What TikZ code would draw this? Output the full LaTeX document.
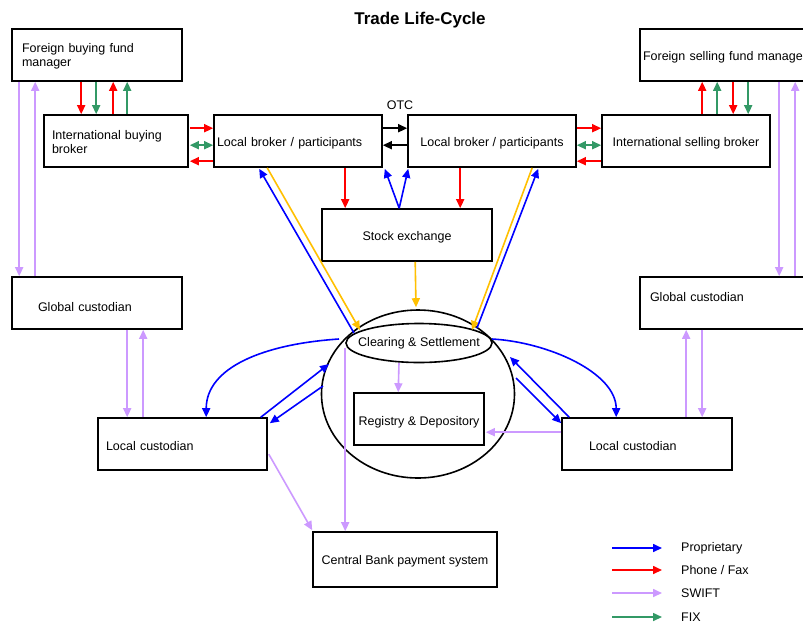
\documentclass[tikz,border=0pt]{standalone}
\usepackage{fontspec}
\setmainfont{Liberation Sans}
\usetikzlibrary{arrows.meta,calc,shapes.geometric}
\definecolor{cProp}{RGB}{0,0,255}
\definecolor{cPhone}{RGB}{255,0,0}
\definecolor{cSwift}{RGB}{204,153,255}
\definecolor{cFix}{RGB}{51,153,102}
\definecolor{cYel}{RGB}{255,192,0}
\newcommand\diafont{\fontsize{12.5pt}{16pt}\selectfont}
\tikzset{
  box/.style={draw, line width=1.6pt, rectangle, inner sep=0pt, minimum height=52pt, font=\diafont},
  lbox/.style={box, align=left},
  arr/.style={line width=1.6pt, -{Triangle[length=9pt,width=8pt]}},
  darr/.style={line width=1.6pt, {Triangle[length=9pt,width=8pt]}-{Triangle[length=9pt,width=8pt]}},
  prop/.style={arr, draw=cProp},
  phone/.style={arr, draw=cPhone},
  swift/.style={arr, draw=cSwift},
  fix/.style={arr, draw=cFix},
  fixd/.style={darr, draw=cFix},
  yel/.style={arr, draw=cYel},
  otcarr/.style={arr, draw=black},
  txt/.style={font=\diafont, inner sep=0pt}
}
\begin{document}
\begin{tikzpicture}[x=1pt,y=-1pt]
\useasboundingbox (0,0) rectangle (803,625);
\clip (0,0) rectangle (803,625);
\fill[white] (0,0) rectangle (803,625);

% title
\node[font=\bfseries\fontsize{17pt}{20pt}\selectfont] (title) at (420,20) {Trade Life-Cycle};
\node[txt] (otc) at (400,105) {OTC};

% boxes
\node[lbox, minimum width=170pt, text width=150pt, inner xsep=10pt] (fbfm) at (97,55) {\raisebox{-2pt}[\height][\depth]{Foreign buying fund}\\manager};
\node[lbox, minimum width=144pt, text width=128pt, inner xsep=8pt] (ibb) at (116,141) {\raisebox{-2pt}[\height][\depth]{International buying}\\broker};
\node[lbox, minimum width=168pt, text width=162pt, inner xsep=3pt] (lbl) at (298,141) {\raisebox{-2pt}[\height][\depth]{Local broker / participants}};
\node[box, minimum width=168pt] (lbr) at (492,141) {\raisebox{-2pt}[\height][\depth]{Local broker / participants}};
\node[box, minimum width=168pt] (isb) at (686,141) {\raisebox{-2pt}[\height][\depth]{International selling broker}};
\node[lbox, minimum width=172pt, text width=166pt, inner xsep=3pt] (fsfm) at (726,55) {\raisebox{-2pt}[\height][\depth]{Foreign selling fund manager}};
\node[box, minimum width=170pt] (se) at (407,235) {\raisebox{-2pt}[\height][\depth]{Stock exchange}};
\node[lbox, minimum width=170pt, text width=118pt, inner xsep=26pt] (gcl) at (97,303) {\raisebox{-4pt}[\height][\depth]{Global custodian}};
\node[lbox, minimum width=172pt, text width=152pt, inner xsep=10pt] (gcr) at (726,303) {\raisebox{6pt}[\height][\depth]{Global custodian}};
\node[draw, ellipse, line width=1.6pt, minimum width=193pt, minimum height=168pt, inner sep=0pt] (bigE) at (418,394) {};
\node[draw, ellipse, line width=1.6pt, fill=white, minimum width=146pt, minimum height=39pt, inner sep=0pt] (cs) at (419,343) {};
\node[txt] (cstxt) at (cs.center) {Clearing \& Settlement};
\node[box, minimum width=130pt] (rd) at (419,419) {\raisebox{-3pt}[\height][\depth]{Registry \& Depository}};
\node[lbox, minimum width=169pt, text width=153pt, inner xsep=8pt] (lcl) at (182.5,444) {\raisebox{-2pt}[\height][\depth]{Local custodian}};
\node[lbox, minimum width=170pt, text width=116pt, inner xsep=27pt] (lcr) at (647,444) {\raisebox{-2pt}[\height][\depth]{Local custodian}};
\node[box, minimum width=184pt, minimum height=55pt] (cb) at (405,559.5) {\raisebox{-2pt}[\height][\depth]{Central Bank payment system}};

% fbfm <-> ibb
\draw[phone] ($(fbfm.south west)+(70,0)$) -- ($(ibb.north west)+(38,0)$);
\draw[fix] ($(fbfm.south west)+(85,0)$) -- ($(ibb.north west)+(53,0)$);
\draw[phone] ($(ibb.north west)+(70,0)$) -- ($(fbfm.south west)+(102,0)$);
\draw[fix] ($(ibb.north west)+(84,0)$) -- ($(fbfm.south west)+(116,0)$);

% fbfm <-> gcl
\draw[swift] ($(fbfm.south west)+(8,0)$) -- ($(gcl.north west)+(8,0)$);
\draw[swift] ($(gcl.north west)+(24,0)$) -- ($(fbfm.south west)+(24,0)$);

% ibb <-> lbl
\draw[phone] ($(ibb.north east)+(1,14)$) -- ($(lbl.north west)+(0,14)$);
\draw[fixd] ($(ibb.north east)+(1,31)$) -- ($(lbl.north west)+(0,31)$);
\draw[phone] ($(lbl.north west)+(0,47)$) -- ($(ibb.north east)+(1,47)$);

% OTC
\draw[otcarr] ($(lbl.north east)+(0,14)$) -- ($(lbr.north west)+(0,14)$);
\draw[otcarr] ($(lbr.north west)+(0,31)$) -- ($(lbl.north east)+(0,31)$);

% lbr <-> isb
\draw[phone] ($(lbr.north east)+(0,14)$) -- ($(isb.north west)+(0,14)$);
\draw[fixd] ($(lbr.north east)+(0,31)$) -- ($(isb.north west)+(0,31)$);
\draw[phone] ($(isb.north west)+(0,47)$) -- ($(lbr.north east)+(0,47)$);

% isb <-> fsfm
\draw[phone] ($(isb.north west)+(101,0)$) -- ($(fsfm.south west)+(63,0)$);
\draw[fix] ($(isb.north west)+(116,0)$) -- ($(fsfm.south west)+(78,0)$);
\draw[phone] ($(fsfm.south west)+(94,0)$) -- ($(isb.north west)+(132,0)$);
\draw[fix] ($(fsfm.south west)+(109,0)$) -- ($(isb.north west)+(147,0)$);

% fsfm <-> gcr
\draw[swift] ($(fsfm.south west)+(140,0)$) -- ($(gcr.north west)+(140,0)$);
\draw[swift] ($(gcr.north west)+(156,0)$) -- ($(fsfm.south west)+(156,0)$);

% brokers -> stock exchange
\draw[phone] ($(lbl.south west)+(132,0)$) -- ($(se.north west)+(24,0)$);
\draw[phone] ($(lbr.south west)+(53,0)$) -- ($(se.north west)+(139,0)$);
\draw[prop] ($(se.north west)+(78,0)$) -- ($(lbl.south east)+(2,1)$);
\draw[prop] ($(se.north west)+(78,0)$) -- ($(lbr.south west)+(1,1)$);

% stock exchange -> clearing
\draw[yel] ($(se.south west)+(94,0)$) -- ($(bigE.north)+(-2,-2)$);

% brokers <-> clearing
\draw[prop] ($(cs.center)+(-65,-10)$) -- ($(lbl.south west)+(46,1)$);
\draw[yel] ($(lbl.south west)+(54,0)$) -- ($(cs.center)+(-59,-13)$);
\draw[yel] ($(lbr.south west)+(125,0)$) -- ($(cs.center)+(53,-13)$);
\draw[prop] ($(cs.center)+(58,-15)$) -- ($(lbr.south west)+(131,1)$);

% clearing -> registry, central bank
\draw[swift] ($(cs.center)+(-20,20)$) -- ($(rd.north west)+(45,0)$);
\draw[swift] ($(cs.west)+(0,5)$) -- ($(cb.north west)+(33,0)$);
\draw[swift] ($(lcl.north east)+(1,37)$) -- ($(cb.north west)+(0,-1)$);
\draw[swift] ($(lcr.north west)+(0,15)$) -- ($(rd.north east)+(1,40)$);

% global <-> local custodians
\draw[swift] ($(gcl.south west)+(116,0)$) -- ($(lcl.north west)+(30,0)$);
\draw[swift] ($(lcl.north west)+(46,0)$) -- ($(gcl.south west)+(132,0)$);
\draw[swift] ($(lcr.north west)+(125,0)$) -- ($(gcr.south west)+(47,0)$);
\draw[swift] ($(gcr.south west)+(63,0)$) -- ($(lcr.north west)+(141,0)$);

% local custodians <-> clearing
\draw[prop] ($(lcl.north east)+(-7,0)$) -- ($(bigE.center)+(-89,-30)$);
\draw[prop] ($(bigE.center)+(-95,-8)$) -- ($(lcl.north east)+(2,6)$);
\draw[prop] ($(lcr.north west)+(8,0)$) -- ($(bigE.center)+(92,-37)$);
\draw[prop] ($(bigE.center)+(98,-16)$) -- ($(lcr.north west)+(0,6)$);

% curved links
\draw[prop] ($(cs.center)+(-80,-4)$) .. controls +(-75,5) and +(0,-50) .. ($(lcl.north west)+(109,0)$);
\draw[prop] ($(cs.center)+(73,-4)$) .. controls +(55,3) and +(0,-45) .. ($(lcr.north west)+(55,0)$);

% legend
\node[txt, anchor=west] (lg1) at (681,548) {Proprietary};
\node[txt, anchor=west] (lg2) at (681,570) {Phone / Fax};
\node[txt, anchor=west] (lg3) at (681,593) {SWIFT};
\node[txt, anchor=west] (lg4) at (681,617) {FIX};
\draw[prop] ($(lg1.west)+(-69,0)$) -- ($(lg1.west)+(-19,0)$);
\draw[phone] ($(lg2.west)+(-69,0)$) -- ($(lg2.west)+(-19,0)$);
\draw[swift] ($(lg3.west)+(-69,0)$) -- ($(lg3.west)+(-19,0)$);
\draw[fix] ($(lg4.west)+(-69,0)$) -- ($(lg4.west)+(-19,0)$);
\end{tikzpicture}
\end{document}
